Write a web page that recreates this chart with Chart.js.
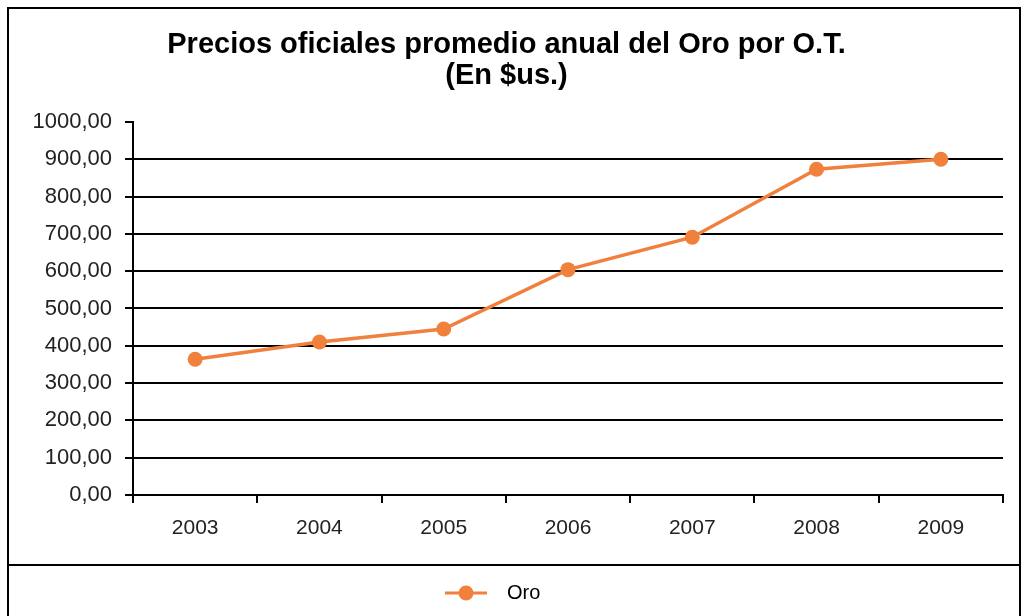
<!DOCTYPE html>
<html>
<head>
<meta charset="utf-8">
<script src="https://cdn.jsdelivr.net/npm/chart.js@4/dist/chart.umd.min.js"></script>
<style>
  html, body { margin: 0; padding: 0; background: #fff; }
  #wrap { width: 1026px; height: 616px; }
</style>
</head>
<body>
<div id="wrap"><canvas id="goldChart"></canvas></div>
<script>
// Datos
const years = ['2003', '2004', '2005', '2006', '2007', '2008', '2009'];
const goldPrices = [364, 410, 445, 604, 691, 873, 900];
const seriesName = 'Oro';
const titleLines = ['Precios oficiales promedio anual del Oro por O.T.', '(En $us.)'];

const orange = 'rgb(240,128,60)';
const fontFam = 'Liberation Sans, Arial, sans-serif';

// marcador de leyenda: línea con círculo
const legendIcon = document.createElement('canvas');
legendIcon.width = 52;
legendIcon.height = 18;
(function () {
  const c = legendIcon.getContext('2d');
  c.strokeStyle = orange;
  c.lineWidth = 3;
  c.beginPath();
  c.moveTo(0, 9);
  c.lineTo(42, 9);
  c.stroke();
  c.fillStyle = orange;
  c.beginPath();
  c.arc(21, 9, 7.5, 0, Math.PI * 2);
  c.fill();
})();

// marco exterior y separador de la leyenda
const framePlugin = {
  id: 'frame',
  afterDraw(chart) {
    const ctx = chart.ctx;
    ctx.save();
    ctx.strokeStyle = '#000';
    ctx.lineWidth = 2;
    ctx.strokeRect(8, 8, 1012, 620);
    ctx.beginPath();
    ctx.moveTo(8, 565);
    ctx.lineTo(1020, 565);
    ctx.stroke();
    ctx.restore();
  }
};

new Chart(document.getElementById('goldChart'), {
  type: 'line',
  data: {
    labels: years,
    datasets: [
      {
        label: seriesName,
        data: goldPrices,
        borderColor: orange,
        backgroundColor: orange,
        borderWidth: 3.5,
        pointRadius: 7.5,
        pointHoverRadius: 7.5,
        pointBackgroundColor: orange,
        pointBorderWidth: 0,
        tension: 0,
      },
    ],
  },
  options: {
    responsive: true,
    maintainAspectRatio: false,
    animation: false,
    devicePixelRatio: 1,
    layout: { padding: { left: 10, right: 23, top: 30, bottom: 3 } },
    plugins: {
      title: {
        display: true,
        text: titleLines,
        color: '#000',
        font: { family: fontFam, size: 29, weight: 'bold', lineHeight: 1.05 },
        padding: { top: 0, bottom: 31 },
      },
      legend: {
        position: 'bottom',
        labels: {
          color: '#222',
          font: { family: fontFam, size: 20 },
          padding: 10,
          usePointStyle: true,
          pointStyleWidth: 52,
          generateLabels: (chart) => [{
            text: seriesName + '\u00a0\u00a0\u00a0\u00a0\u00a0',
            pointStyle: legendIcon,
            fillStyle: orange,
            strokeStyle: orange,
            lineWidth: 0,
            datasetIndex: 0,
          }],
        },
      },
      tooltip: { enabled: false },
    },
    scales: {
      x: {
        offset: true,
        grid: {
          offset: true,
          drawOnChartArea: false,
          color: '#000',
          tickColor: '#000',
          tickLength: 8,
          lineWidth: 2,
        },
        border: { color: '#000', width: 2 },
        ticks: {
          color: '#222',
          padding: 13,
          font: { family: fontFam, size: 21 },
        },
        afterFit: (s) => { s.height = 78; },
      },
      y: {
        min: 0,
        max: 1000,
        ticks: {
          stepSize: 100,
          color: '#222',
          padding: 13,
          font: { family: fontFam, size: 22 },
          callback: (v) => v.toFixed(2).replace('.', ','),
        },
        grid: {
          color: (ctx) => (ctx.tick && ctx.tick.value === 1000 ? 'rgba(0,0,0,0)' : '#000'),
          tickColor: '#000',
          tickLength: 8,
          lineWidth: 2,
        },
        border: { color: '#000', width: 2 },
        afterFit: (s) => { s.width = 123; },
      },
    },
  },
  plugins: [framePlugin],
});
</script>
</body>
</html>
